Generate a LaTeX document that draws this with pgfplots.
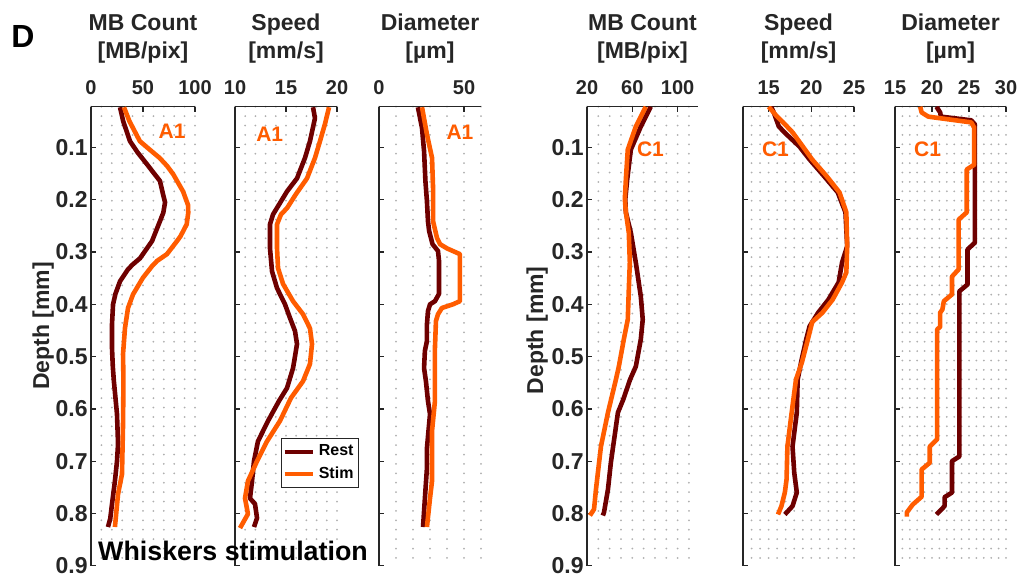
\documentclass[border=0pt]{standalone}
\usepackage{pgfplots}
\pgfplotsset{compat=1.18}
\usepackage{fontspec}
\setmainfont{Liberation Sans}
\definecolor{rest}{RGB}{110,0,0}
\definecolor{stim}{RGB}{255,92,0}
\definecolor{ax}{RGB}{38,38,38}
\definecolor{grd}{RGB}{175,175,175}
\tikzset{lab/.style={font=\fontsize{10.5}{12}\selectfont\bfseries, text=stim}}
\pgfplotsset{
  panel/.style={
    scale only axis, height=229.5pt,
    y dir=reverse, ymin=0.022, ymax=0.9,
    ytick={0.1,0.2,0.3,0.4,0.5,0.6,0.7,0.8,0.9},
    axis x line=top, axis y line=left,
    axis line style={-, ax, line width=0.65pt},
    tick align=inside, major tick length=2.5pt, minor tick length=0pt,
    tick style={ax, line width=0.65pt},
    xmajorgrids, xminorgrids,
    major grid style={grd, line width=1pt, line cap=round, dash pattern=on 0pt off 4.7pt},
    minor grid style={grd, line width=1pt, line cap=round, dash pattern=on 0pt off 4.7pt},
    /pgf/number format/assume math mode=true,
    xticklabel style={font=\fontsize{10}{12}\selectfont\bfseries, text=ax, inner sep=0pt, anchor=south, yshift=5.8pt},
    yticklabel style={font=\fontsize{11.5}{13}\selectfont\bfseries, text=ax, inner sep=0pt, anchor=east, xshift=-1.5pt,
      /pgf/number format/.cd, fixed, precision=1, fixed zerofill},
    title style={font=\fontsize{11.5}{14}\selectfont\bfseries, align=center, text=ax, inner sep=0pt,
      at={(axis description cs:0.5,1)}, anchor=south, yshift=15.5pt},
    ylabel style={font=\fontsize{11.5}{14}\selectfont\bfseries, text=ax, anchor=center},
    every axis plot/.append style={line width=2.3pt, line join=round, no markers},
    legend image code/.code={\draw[#1, line width=2.1pt] (0pt,0pt) -- (14pt,0pt);},
  },
  noylab/.style={yticklabels={}},
}
\begin{document}
\begin{tikzpicture}
\path[use as bounding box] (0,0) rectangle (513pt,292.5pt);

% ---------- Panel 1: MB Count A1
\begin{axis}[panel, at={(71.5pt,124.4pt)}, anchor=center, width=52pt,
  xmin=0, xmax=100, xtick={0,50,100}, minor xtick={10,20,30,40,60,70,80,90},
  title={MB Count\\{}[MB/pix]}, ylabel={Depth [mm]},
  ylabel style={at={(axis description cs:-0.46,0.522)}}]
\addplot[rest] coordinates {(27.9,0.023)(31,0.05)(37.5,0.088)(45,0.11)(53.8,0.132)(60,0.148)(66.3,0.164)(69.2,0.189)(71.2,0.205)(69.5,0.225)(66.3,0.241)(58.7,0.279)(47.1,0.312)(40,0.324)(35.6,0.333)(27.9,0.356)(23.5,0.38)(21.2,0.400)(20.2,0.438)(20.2,0.484)(21,0.52)(22,0.547)(25,0.610)(26,0.667)(25,0.70)(23,0.738)(20.2,0.782)(18.5,0.81)(16.3,0.826)};
\addplot[stim] coordinates {(31.7,0.023)(37,0.05)(47,0.088)(57,0.105)(66,0.120)(73,0.135)(79,0.151)(88.5,0.184)(93.3,0.21)(93.5,0.225)(92,0.247)(86,0.27)(82.7,0.279)(73,0.304)(63.5,0.317)(58.7,0.327)(50,0.349)(40.4,0.381)(35.6,0.407)(32.7,0.445)(30.8,0.495)(31.2,0.547)(30.8,0.63)(29.8,0.725)(26,0.763)(23,0.826)};
\node[lab] at (axis cs:78,0.069) {A1};
\end{axis}

% ---------- Panel 2: Speed A1
\begin{axis}[panel, noylab, at={(143pt,124.4pt)}, anchor=center, width=51pt,
  xmin=10, xmax=20, xtick={10,15,20}, minor xtick={11,12,13,14,16,17,18,19},
  title={Speed\\{}[mm/s]},
  legend style={at={(axis description cs:0.451,0.278)}, anchor=north west, draw=ax, fill=white, line width=0.6pt,
    font=\fontsize{8}{9.5}\selectfont\bfseries, inner xsep=0.5pt, inner ysep=1pt, row sep=0pt,
    cells={anchor=west}}]
\addplot[rest] coordinates {(17.65,0.023)(17.84,0.044)(17.35,0.088)(16.86,0.120)(16.08,0.159)(15.10,0.184)(14.51,0.203)(13.73,0.228)(13.43,0.247)(13.43,0.293)(13.63,0.337)(14.12,0.369)(14.90,0.400)(15.39,0.426)(15.88,0.451)(16.08,0.476)(15.69,0.522)(15.10,0.560)(14.31,0.585)(13.24,0.623)(12.25,0.662)(11.86,0.700)(11.67,0.738)(11.47,0.771)(11.96,0.782)(12.16,0.809)(11.86,0.826)};
\addlegendentry{Rest}
\addplot[stim] coordinates {(19.22,0.023)(18.82,0.055)(18.33,0.088)(17.84,0.120)(17.06,0.159)(15.98,0.189)(15.10,0.216)(14.51,0.228)(14.12,0.247)(14.12,0.293)(14.22,0.331)(14.71,0.361)(15.69,0.394)(16.67,0.419)(17.35,0.446)(17.55,0.476)(17.35,0.514)(16.67,0.547)(15.49,0.579)(14.41,0.623)(13.14,0.662)(12.16,0.700)(11.27,0.738)(10.98,0.771)(11.27,0.801)(10.49,0.828)};
\addlegendentry{Stim}
\node[lab] at (axis cs:13.4,0.075) {A1};
\end{axis}

% ---------- Panel 3: Diameter A1
\begin{axis}[panel, noylab, at={(215pt,124.4pt)}, anchor=center, width=51pt,
  xmin=0, xmax=60, xtick={0,50}, minor xtick={10,20,30,40,60},
  title={Diameter\\{}[µm]}]
\addplot[rest] coordinates {(22.9,0.023)(25.3,0.063)(26.5,0.107)(27.3,0.164)(28.2,0.203)(28.8,0.241)(29.5,0.260)(31.5,0.285)(34.7,0.298)(35.3,0.317)(35.3,0.380)(32.9,0.394)(30.0,0.400)(28.8,0.413)(28.2,0.438)(28.2,0.470)(27.0,0.489)(26.5,0.522)(27.6,0.547)(28.8,0.585)(30.0,0.610)(28.2,0.675)(28.2,0.713)(27.0,0.771)(25.9,0.826)};
\addplot[stim] coordinates {(25.3,0.023)(28.2,0.075)(31.2,0.120)(31.8,0.178)(31.8,0.241)(34.1,0.273)(35.9,0.285)(40,0.293)(47.6,0.304)(47.6,0.394)(43.5,0.400)(37,0.407)(34.7,0.419)(33.5,0.432)(32.9,0.484)(32.9,0.585)(31.2,0.642)(31.2,0.738)(30,0.771)(28.2,0.826)};
\node[lab] at (axis cs:47.6,0.07) {A1};
\end{axis}

% ---------- Panel 4: MB Count C1
\begin{axis}[panel, at={(321.25pt,124.4pt)}, anchor=center, width=55.5pt,
  xmin=20, xmax=118, xtick={20,60,100}, minor xtick={30,40,50,70,80,90,110},
  title={MB Count\\{}[MB/pix]}, ylabel={Depth [mm]},
  ylabel style={at={(axis description cs:-0.45,0.513)}}]
\addplot[rest] coordinates {(76.3,0.022)(67.5,0.060)(58.7,0.104)(55.5,0.161)(53.8,0.199)(54.3,0.224)(58.7,0.263)(63.1,0.320)(67.5,0.385)(69.2,0.429)(67.5,0.467)(63.1,0.519)(58,0.544)(52,0.582)(47.3,0.607)(41.1,0.702)(38.5,0.754)(35,0.798)(34,0.804)};
\addplot[stim] coordinates {(71.9,0.022)(63.1,0.060)(56,0.104)(54.3,0.161)(53.4,0.199)(54.3,0.224)(56.9,0.263)(57.8,0.320)(56.9,0.372)(56,0.429)(52.5,0.467)(48.1,0.519)(45.5,0.544)(38.5,0.607)(32.3,0.672)(27.9,0.754)(26.2,0.792)(22.6,0.804)};
\node[lab] at (axis cs:76,0.104) {C1};
\end{axis}

% ---------- Panel 5: Speed C1
\begin{axis}[panel, noylab, at={(399.25pt,124.4pt)}, anchor=center, width=55.5pt,
  xmin=12, xmax=25, xtick={15,20,25}, minor xtick={12,13,14,16,17,18,19,21,22,23,24},
  title={Speed\\{}[mm/s]}]
\addplot[rest] coordinates {(15.3,0.022)(15.6,0.033)(16.2,0.060)(17.1,0.075)(18.6,0.098)(19.8,0.123)(21.5,0.155)(23.1,0.186)(23.4,0.199)(24.0,0.224)(24.2,0.289)(23.6,0.320)(23.2,0.358)(22.0,0.391)(20.8,0.416)(19.8,0.442)(19.4,0.467)(18.8,0.511)(18.4,0.544)(18.3,0.607)(17.8,0.672)(18.0,0.722)(18.3,0.760)(17.8,0.786)(16.9,0.802)};
\addplot[stim] coordinates {(15.0,0.022)(16.0,0.041)(16.7,0.052)(17.8,0.071)(19.0,0.098)(20.1,0.123)(21.8,0.155)(23.3,0.186)(24.1,0.224)(24.2,0.289)(24.1,0.339)(23.6,0.358)(22.5,0.391)(21.3,0.416)(20.1,0.434)(19.6,0.467)(18.9,0.511)(18.2,0.544)(17.7,0.607)(17.2,0.672)(17.1,0.735)(16.9,0.760)(16.5,0.786)(16.1,0.802)};
\node[lab] at (axis cs:15.8,0.104) {C1};
\end{axis}

% ---------- Panel 6: Diameter C1
\begin{axis}[panel, noylab, at={(475.25pt,124.4pt)}, anchor=center, width=55.5pt,
  xmin=15, xmax=30, xtick={15,20,25,30}, minor xtick={16,17,18,19,21,22,23,24,26,27,28,29},
  title={Diameter\\{}[µm]}]
\addplot[rest] coordinates {(20.6,0.022)(21.1,0.033)(21.2,0.041)(25.3,0.048)(25.8,0.056)(25.8,0.282)(24.8,0.295)(24.8,0.362)(23.7,0.375)(23.7,0.691)(22.7,0.700)(22.7,0.760)(21.7,0.769)(21.7,0.786)(20.6,0.802)};
\addplot[stim] coordinates {(18.4,0.022)(18.6,0.033)(19.5,0.041)(25.3,0.052)(25.7,0.062)(25.7,0.133)(24.7,0.142)(24.7,0.224)(23.6,0.238)(23.6,0.333)(22.7,0.347)(22.7,0.381)(21.6,0.394)(21.4,0.410)(21.1,0.416)(21.1,0.443)(20.7,0.448)(20.7,0.658)(19.7,0.672)(19.7,0.703)(18.6,0.716)(18.6,0.768)(17.4,0.783)(16.6,0.798)(16.6,0.806)};
\node[lab] at (axis cs:19.4,0.104) {C1};
\end{axis}

\node[anchor=base west, inner sep=0pt, font=\fontsize{16}{18}\selectfont\bfseries] at (5.5pt,268.5pt) {D};
\node[anchor=base, inner sep=0pt, font=\fontsize{13.4}{15}\selectfont\bfseries] at (116.5pt,12.5pt) {Whiskers stimulation};
\end{tikzpicture}
\end{document}
